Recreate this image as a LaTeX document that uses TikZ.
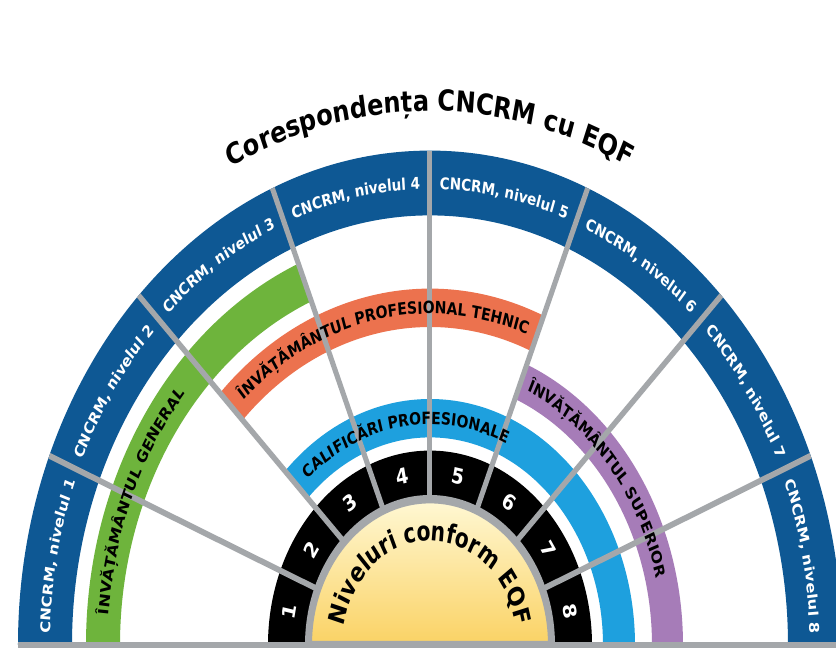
\documentclass[tikz,border=0pt]{standalone}
\usepackage{fontspec}
\setmainfont{DejaVu Sans}
\usetikzlibrary{decorations.text}
\definecolor{cncrmblue}{RGB}{14,88,148}
\definecolor{generalgreen}{RGB}{110,180,60}
\definecolor{tehnicorange}{RGB}{236,114,78}
\definecolor{califblue}{RGB}{30,160,222}
\definecolor{superiorpurple}{RGB}{166,124,184}
\definecolor{spokegray}{RGB}{164,167,170}
\definecolor{eqftop}{RGB}{255,248,212}
\definecolor{eqfbottom}{RGB}{250,210,100}
\newcommand{\cncrmfont}{\fontsize{13.5}{16}\selectfont\bfseries\color{white}}
\newcommand{\bandfont}{\fontsize{14}{16}\selectfont\bfseries}
\newcommand{\eqffont}{\fontsize{22.5}{27}\selectfont\bfseries\addfontfeature{FakeStretch=0.9}}
\newcommand{\headfont}{\fontsize{24}{28}\selectfont\bfseries}
\tikzstyle{spoke} = [draw=spokegray, line width=5pt]
\tikzstyle{levelnum} = [text=white, font=\fontsize{18}{21}\selectfont\bfseries, inner sep=0pt]
\tikzset{arclabel/.style={decorate, decoration={text along path, text align=center, text={#1}}}}

\begin{document}
\begin{tikzpicture}[x=1pt, y=1pt]
    \path[use as bounding box, fill=white] (-430,-3) rectangle (406,645);
    \begin{scope}[transform canvas={yscale=1.2}]
    \fill[cncrmblue] (0:358pt) arc[start angle=0, end angle=180, radius=358pt] -- (180:412pt) arc[start angle=180, end angle=0, radius=412pt] -- cycle;
    \fill[generalgreen] (112.5:310pt) arc[start angle=112.5, end angle=180, radius=310pt] -- (180:344pt) arc[start angle=180, end angle=112.5, radius=344pt] -- cycle;
    \fill[tehnicorange] (67.5:265pt) arc[start angle=67.5, end angle=135, radius=265pt] -- (135:297pt) arc[start angle=135, end angle=67.5, radius=297pt] -- cycle;
    \fill[superiorpurple] (0:222pt) arc[start angle=0, end angle=67.5, radius=222pt] -- (67.5:253pt) arc[start angle=67.5, end angle=0, radius=253pt] -- cycle;
    \fill[califblue] (0:173pt) arc[start angle=0, end angle=135, radius=173pt] -- (135:205pt) arc[start angle=135, end angle=0, radius=205pt] -- cycle;
    \fill[black] (0:162pt) arc[start angle=0, end angle=180, radius=162pt] -- cycle;
    \shade[top color=eqftop, bottom color=eqfbottom, draw=spokegray, line width=7pt] (0:121.5pt) arc[start angle=0, end angle=180, radius=121.5pt] -- cycle;

    \foreach \a in {0,22.5,...,180}
        \draw[spoke] (\a:121pt) -- (\a:412pt);

    \foreach \n [evaluate=\n as \ang using 180-22.5*(\n-0.5)] in {1,...,8}
        \node (lvl\n) [levelnum, rotate={\ang-90}] at (\ang:143pt) {\n};

    \path[arclabel={|\cncrmfont|CNCRM, nivelul 1}] (180:380pt) arc[start angle=180, end angle=157.5, radius=380pt];
    \path[arclabel={|\cncrmfont|CNCRM, nivelul 2}] (157.5:380pt) arc[start angle=157.5, end angle=135, radius=380pt];
    \path[arclabel={|\cncrmfont|CNCRM, nivelul 3}] (135:380pt) arc[start angle=135, end angle=112.5, radius=380pt];
    \path[arclabel={|\cncrmfont|CNCRM, nivelul 4}] (112.5:380pt) arc[start angle=112.5, end angle=90, radius=380pt];
    \path[arclabel={|\cncrmfont|CNCRM, nivelul 5}] (90:380pt) arc[start angle=90, end angle=67.5, radius=380pt];
    \path[arclabel={|\cncrmfont|CNCRM, nivelul 6}] (67.5:380pt) arc[start angle=67.5, end angle=45, radius=380pt];
    \path[arclabel={|\cncrmfont|CNCRM, nivelul 7}] (45:380pt) arc[start angle=45, end angle=22.5, radius=380pt];
    \path[arclabel={|\cncrmfont|CNCRM, nivelul 8}] (22.5:380pt) arc[start angle=22.5, end angle=0, radius=380pt];

    \path[arclabel={|\bandfont|ÎNVĂȚĂMÂNTUL GENERAL}] (182:322pt) arc[start angle=182, end angle=133, radius=322pt];
    \path[arclabel={|\bandfont|ÎNVĂȚĂMÂNTUL PROFESIONAL TEHNIC}] (138:276pt) arc[start angle=138, end angle=64, radius=276pt];
    \path[arclabel={|\bandfont|CALIFICĂRI PROFESIONALE}] (136:184pt) arc[start angle=136, end angle=61, radius=184pt];
    \path[arclabel={|\bandfont|ÎNVĂȚĂMÂNTUL SUPERIOR}] (70:233pt) arc[start angle=70, end angle=9, radius=233pt];

    \path[arclabel={|\eqffont|Niveluri conform EQF}] (172:87pt) arc[start angle=172, end angle=8, radius=87pt];
    \path[arclabel={|\headfont|Corespondența CNCRM cu EQF}] (122:445pt) arc[start angle=122, end angle=58, radius=445pt];
    \end{scope}
\end{tikzpicture}
\end{document}
